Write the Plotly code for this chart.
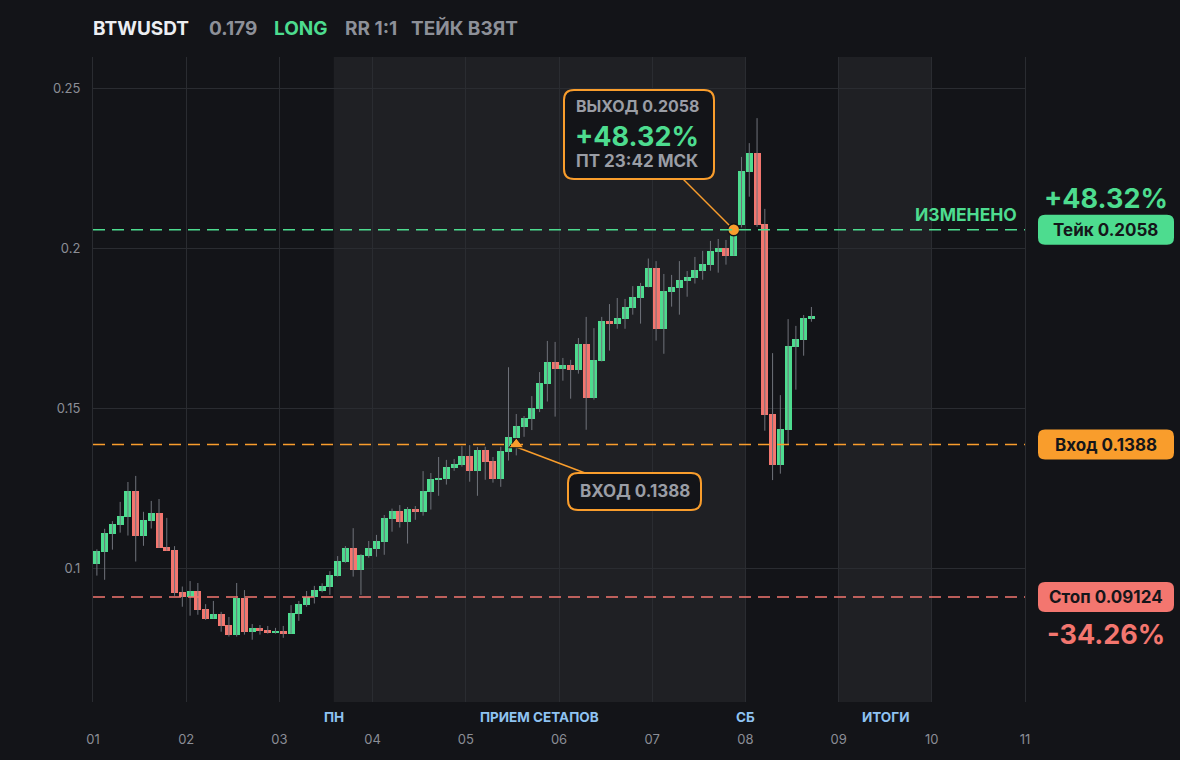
import numpy as np
import plotly.graph_objects as go

# --- data (2h candles, 12 per day) -------------------------------------
opens = [0.1016, 0.1054, 0.1110, 0.1138, 0.1163, 0.1243, 0.1104, 0.1150, 0.1174, 0.1068,
         0.1059, 0.0928, 0.0913, 0.0931, 0.0875, 0.0845, 0.0859, 0.0825, 0.0795, 0.0909,
         0.0804, 0.0816, 0.0809, 0.0801, 0.0806, 0.0798, 0.0860, 0.0888, 0.0912, 0.0931,
         0.0944, 0.0978, 0.1021, 0.1065, 0.0997, 0.1041, 0.1063, 0.1085, 0.1157, 0.1181,
         0.1147, 0.1187, 0.1178, 0.1241, 0.1278, 0.1281, 0.1316, 0.1325, 0.1352, 0.1306,
         0.1371, 0.1337, 0.1281, 0.1365, 0.1409, 0.1444, 0.1469, 0.1500, 0.1578, 0.1645,
         0.1625, 0.1636, 0.1621, 0.1701, 0.1534, 0.1649, 0.1773, 0.1765, 0.1781, 0.1815,
         0.1846, 0.1880, 0.1938, 0.1749, 0.1865, 0.1877, 0.1899, 0.1908, 0.1930, 0.1949,
         0.1989, 0.2001, 0.1977, 0.2073, 0.2239, 0.2297, 0.2076, 0.1483, 0.1325, 0.1434,
         0.1693, 0.1715, 0.1780]
highs = [0.1061, 0.1125, 0.1149, 0.1209, 0.1271, 0.1290, 0.1178, 0.1212, 0.1218, 0.1159,
         0.1071, 0.0945, 0.0962, 0.0956, 0.0890, 0.0900, 0.0866, 0.0850, 0.0956, 0.0934,
         0.0828, 0.0825, 0.0822, 0.0816, 0.0822, 0.0887, 0.0900, 0.0931, 0.0947, 0.0955,
         0.0993, 0.1040, 0.1071, 0.1127, 0.1046, 0.1087, 0.1106, 0.1168, 0.1188, 0.1199,
         0.1193, 0.1196, 0.1305, 0.1299, 0.1349, 0.1340, 0.1343, 0.1383, 0.1386, 0.1380,
         0.1381, 0.1349, 0.1381, 0.1629, 0.1483, 0.1477, 0.1539, 0.1614, 0.1711, 0.1708,
         0.1658, 0.1652, 0.1720, 0.1786, 0.1751, 0.1786, 0.1826, 0.1845, 0.1842, 0.1882,
         0.1892, 0.1968, 0.1960, 0.1920, 0.1917, 0.1960, 0.1929, 0.1973, 0.1992, 0.2023,
         0.2029, 0.2026, 0.2049, 0.2285, 0.2328, 0.2406, 0.2123, 0.1673, 0.1542, 0.1779,
         0.1758, 0.1792, 0.1817]
lows = [0.0979, 0.0966, 0.1060, 0.1113, 0.1104, 0.1023, 0.1072, 0.1126, 0.1066, 0.1057,
        0.0916, 0.0882, 0.0854, 0.0857, 0.0841, 0.0845, 0.0804, 0.0789, 0.0789, 0.0795,
        0.0779, 0.0795, 0.0798, 0.0798, 0.0785, 0.0798, 0.0838, 0.0882, 0.0892, 0.0927,
        0.0919, 0.0976, 0.1019, 0.0976, 0.0919, 0.1035, 0.1038, 0.1044, 0.1116, 0.1129,
        0.1079, 0.1153, 0.1166, 0.1185, 0.1228, 0.1263, 0.1306, 0.1319, 0.1272, 0.1228,
        0.1278, 0.1269, 0.1256, 0.1338, 0.1354, 0.1412, 0.1433, 0.1489, 0.1522, 0.1475,
        0.1587, 0.1531, 0.1609, 0.1434, 0.1528, 0.1647, 0.1681, 0.1749, 0.1749, 0.1793,
        0.1765, 0.1878, 0.1712, 0.1671, 0.1818, 0.1793, 0.1849, 0.1890, 0.1902, 0.1930,
        0.1924, 0.1949, 0.1977, 0.2065, 0.2161, 0.2067, 0.1431, 0.1277, 0.1297, 0.1389,
        0.1559, 0.1665, 0.1771]
closes = [0.1056, 0.1112, 0.1140, 0.1165, 0.1243, 0.1104, 0.1153, 0.1174, 0.1066, 0.1057,
          0.0926, 0.0913, 0.0931, 0.0873, 0.0845, 0.0859, 0.0823, 0.0795, 0.0909, 0.0804,
          0.0816, 0.0807, 0.0803, 0.0806, 0.0798, 0.0862, 0.0890, 0.0912, 0.0934, 0.0947,
          0.0981, 0.1025, 0.1065, 0.0997, 0.1043, 0.1065, 0.1087, 0.1159, 0.1181, 0.1147,
          0.1187, 0.1178, 0.1243, 0.1280, 0.1283, 0.1318, 0.1327, 0.1352, 0.1306, 0.1371,
          0.1334, 0.1281, 0.1368, 0.1411, 0.1446, 0.1471, 0.1502, 0.1580, 0.1645, 0.1625,
          0.1636, 0.1621, 0.1701, 0.1534, 0.1652, 0.1773, 0.1765, 0.1783, 0.1817, 0.1848,
          0.1882, 0.1938, 0.1749, 0.1867, 0.1879, 0.1901, 0.1910, 0.1932, 0.1951, 0.1992,
          0.2001, 0.1977, 0.2041, 0.2241, 0.2297, 0.2073, 0.1481, 0.1325, 0.1436, 0.1695,
          0.1717, 0.1782, 0.1790]

day_labels = ["01", "02", "03", "04", "05", "06", "07", "08", "09", "10", "11"]
zone_names = ["ПН", "ПРИЕМ СЕТАПОВ", "СБ", "ИТОГИ"]
zone_pos = [31 / 12, (31 / 12 + 7) / 2, 7, 8.5]

entry_price = 0.1388
take_price = 0.2058
stop_price = 0.09124
entry_idx = 54
exit_idx = 82

GREEN = "#4ddc8f"
RED = "#f3766f"
ORANGE = "#f99d2c"
BG = "#131418"
GRID = "#2a2c31"
GRAY = "#9a9da5"
FONT = "Inter"

# --- geometry helpers (pixel -> paper) ----------------------------------
W, H = 1180, 760
L, T, PW, PH = 93, 57, 932, 645
Y0, Y1 = 0.05848, 0.25967


def px(x):
    return (x - L) / PW


def py(y):
    return (T + PH - y) / PH


def price_px(v):
    return T + PH - (v - Y0) / (Y1 - Y0) * PH


def data_x(x):
    return (x - L) / PW * 10


def data_y(y):
    return Y0 + (T + PH - y) / PH * (Y1 - Y0)


def rbox(x0, y0, x1, y1, r):
    X0, X1, YT, YB = px(x0), px(x1), py(y0), py(y1)
    rx, ry = r / PW, r / PH
    return (f"M {X0+rx},{YT} L {X1-rx},{YT} Q {X1},{YT} {X1},{YT-ry} "
            f"L {X1},{YB+ry} Q {X1},{YB} {X1-rx},{YB} L {X0+rx},{YB} "
            f"Q {X0},{YB} {X0},{YB+ry} L {X0},{YT-ry} Q {X0},{YT} {X0+rx},{YT} Z")


o = np.array(opens)
h = np.array(highs)
lo = np.array(lows)
c = np.array(closes)
n = len(o)
xs = (np.arange(n) + 0.5) / 12
up = c >= o
colors = [GREEN if u else RED for u in up]

fig = go.Figure()

# wicks
wx, wy = [], []
for i in range(n):
    wx += [xs[i], xs[i], None]
    wy += [lo[i], h[i], None]
fig.add_trace(go.Scatter(x=wx, y=wy, mode="lines", line=dict(color="#6f727a", width=1),
                         hoverinfo="skip"))

# bodies
body = np.maximum(np.abs(c - o), 0.0005)
fig.add_trace(go.Bar(x=xs, y=body, base=np.minimum(o, c), width=0.9 / 12,
                     marker=dict(color=colors, line=dict(width=0))))

# connectors
ex, ey = xs[exit_idx], take_price
fig.add_trace(go.Scatter(x=[data_x(683), ex], y=[data_y(179), ey], mode="lines",
                         line=dict(color=ORANGE, width=1.5), hoverinfo="skip"))
nx, ny = xs[entry_idx], entry_price
fig.add_trace(go.Scatter(x=[nx, data_x(585)], y=[ny - 0.0008, data_y(473)], mode="lines",
                         line=dict(color=ORANGE, width=1.5), hoverinfo="skip"))

# markers
fig.add_trace(go.Scatter(x=[ex], y=[ey], mode="markers",
                         marker=dict(size=12, color=ORANGE, line=dict(color=BG, width=1.5))))
fig.add_trace(go.Scatter(x=[nx], y=[ny], mode="markers",
                         marker=dict(size=13, symbol="triangle-up", color=ORANGE,
                                     line=dict(color=BG, width=1))))

shapes = []
# shaded zones
for a, b in [(31 / 12, 7), (8, 9)]:
    shapes.append(dict(type="rect", xref="x", yref="paper", x0=a, x1=b, y0=0, y1=1,
                       fillcolor="#1f2024", line=dict(width=0), layer="below"))
# level lines
for v, col in [(take_price, GREEN), (entry_price, ORANGE), (stop_price, RED)]:
    shapes.append(dict(type="line", xref="paper", yref="y", x0=0, x1=1, y0=v, y1=v,
                       line=dict(color=col, width=1.5, dash="12px,7px")))
# right pills
for v, col in [(take_price, GREEN), (entry_price, ORANGE), (stop_price, RED)]:
    yc = price_px(v)
    shapes.append(dict(type="path", xref="paper", yref="paper", path=rbox(1038, yc - 15, 1174, yc + 15, 7),
                       fillcolor=col, line=dict(width=0)))
# annotation boxes
shapes.append(dict(type="path", xref="paper", yref="paper", path=rbox(564, 90, 714, 179, 10),
                   fillcolor=BG, line=dict(color=ORANGE, width=2)))
shapes.append(dict(type="path", xref="paper", yref="paper", path=rbox(568, 473, 701, 510, 10),
                   fillcolor=BG, line=dict(color=ORANGE, width=2)))

ann = []


def label(text, x, y, size, color, xanchor="left", xref="paper", yref="paper"):
    ann.append(dict(text=text, x=x, y=y, xref=xref, yref=yref, xanchor=xanchor, yanchor="middle",
                    showarrow=False, font=dict(family=FONT, size=size, color=color)))


# header
label("<b>BTWUSDT</b>", px(91), py(28), 19, "#eceef2")
label("<b>0.179</b>", px(207), py(28), 19, "#8d9098")
label("<b>LONG</b>", px(272), py(28), 19, GREEN)
label("<b>RR 1:1</b>", px(343), py(28), 19, "#8d9098")
label("<b>ТЕЙК ВЗЯТ</b>", px(409), py(28), 19, "#8d9098")

# zone names under the axis
for name, pos in zip(zone_names, zone_pos):
    label("<b>" + name + "</b>", pos, py(717), 13.5, "#8fc3f2", xanchor="center", xref="x")

# exit box
label("<b>ВЫХОД 0.2058</b>", px(574), py(106), 16, GRAY)
label("<b>+48.32%</b>", px(573), py(136), 27, GREEN)
label("<b>ПТ 23:42 МСК</b>", px(574), py(161), 17, GRAY)
# entry box
label("<b>ВХОД 0.1388</b>", px(634.5), py(491), 17, GRAY, xanchor="center")

# right side
label("<b>+48.32%</b>", px(1106), py(198), 27, GREEN, xanchor="center")
label("<b>ИЗМЕНЕНО</b>", px(1019), py(214), 17.5, GREEN, xanchor="right")
label("<b>-34.26%</b>", px(1106), py(634), 27, RED, xanchor="center")
label("<b>Тейк 0.2058</b>", px(1105), take_price, 17, "#15161a", xanchor="center", yref="y")
label("<b>Вход 0.1388</b>", px(1106), entry_price, 17, "#15161a", xanchor="center", yref="y")
label("<b>Стоп 0.09124</b>", px(1106), stop_price, 17, "#15161a", xanchor="center", yref="y")

fig.update_layout(
    width=W, height=H,
    margin=dict(l=L, r=W - L - PW, t=T, b=H - T - PH),
    paper_bgcolor=BG, plot_bgcolor=BG,
    showlegend=False, bargap=0,
    shapes=shapes, annotations=ann,
    font=dict(family=FONT),
    xaxis=dict(range=[0, 10], tickvals=list(range(11)), ticktext=day_labels,
               showgrid=True, gridcolor=GRID, gridwidth=1, zeroline=False, showline=False,
               ticks="outside", ticklen=25, tickcolor="rgba(0,0,0,0)",
               tickfont=dict(family=FONT, size=13, color="#8b8e96"), fixedrange=True),
    yaxis=dict(range=[Y0, Y1], tickvals=[0.1, 0.15, 0.2, 0.25],
               ticktext=["0.1", "0.15", "0.2", "0.25"],
               showgrid=True, gridcolor=GRID, gridwidth=1, zeroline=False,
               showline=True, mirror=True, linecolor=GRID, linewidth=1,
               ticks="outside", ticklen=9, tickcolor="rgba(0,0,0,0)",
               tickfont=dict(family=FONT, size=13, color="#8b8e96"), fixedrange=True),
)

# page has a default 8px body margin; drop it so the figure fills the window
fig.write_html("out.html", config={"displayModeBar": False},
               post_script="document.body.style.margin='0';document.body.style.background='" + BG + "';")
